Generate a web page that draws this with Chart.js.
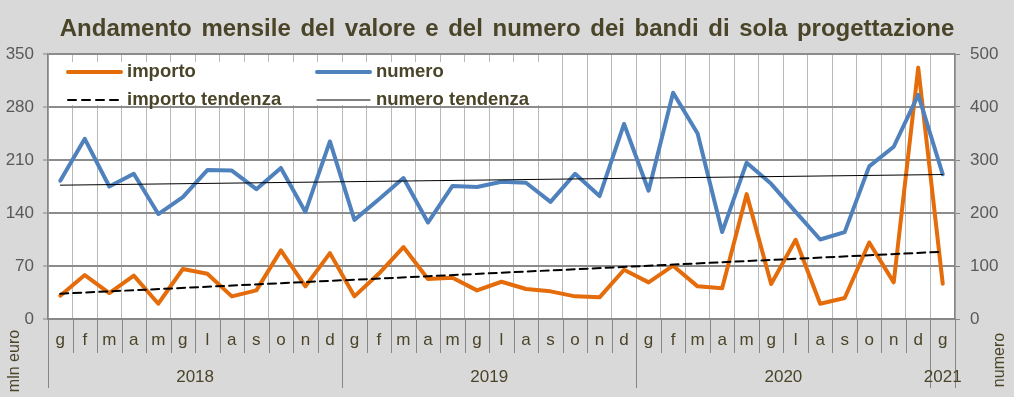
<!DOCTYPE html>
<html>
<head>
<meta charset="utf-8">
<script src="https://cdn.jsdelivr.net/npm/chart.js@4"></script>
<style>
  html, body { margin: 0; padding: 0; background: #d9d9d9; }
  #wrap { width: 1014px; height: 397px; }
</style>
</head>
<body>
<div id="wrap"><canvas id="bandiChart" width="1014" height="397"></canvas></div>
<script>
// mesi (g f m a m g l a s o n d) da gennaio 2018 a gennaio 2021
const months = ['g','f','m','a','m','g','l','a','s','o','n','d',
                'g','f','m','a','m','g','l','a','s','o','n','d',
                'g','f','m','a','m','g','l','a','s','o','n','d',
                'g'];
const years = ['2018', '2019', '2020', '2021'];
const monthsPerYear = [12, 12, 12, 1];

// importo in mln euro (asse sinistro)
const importo = [30.8, 58, 34.3, 57.2, 20.2, 66, 59.8, 29.9, 37.8, 90.6, 43.1, 87,
                 29.9, 60, 95, 52.8, 54.5, 37.8, 49.2, 39.6, 36.5, 29.9, 28.6, 65.1,
                 48.4, 70.4, 43.1, 40.5, 164.9, 46.2, 104.6, 20.2, 27.7, 101.1, 48.4, 332,
                 46.6];
// numero di bandi (asse destro)
const numero = [261, 340, 250, 274, 198, 230, 281, 280, 245, 285, 202, 335,
                187, 226, 266, 182, 251, 249, 259, 257, 221, 274, 232, 368,
                242, 427, 350, 164, 295, 255, 202, 150, 164, 288, 325, 423,
                273];
// linee di tendenza: valore iniziale e finale
const importoTendenza = [33.4, 88.8];
const numeroTendenza = [252.5, 272.6];

const leftTicks = [0, 70, 140, 210, 280, 350];
const rightTicks = [0, 100, 200, 300, 400, 500];

const titolo = 'Andamento mensile del valore e del numero dei bandi di sola progettazione';

const olive = '#4a4429';
const orange = '#e46c0a';
const blue = '#4f81bd';
const axisGray = '#868686';

function trendSeries(ends) {
  return months.map((m, i) => i === 0 ? ends[0] : (i === months.length - 1 ? ends[1] : null));
}

Chart.defaults.font.family = "'Liberation Sans', Arial, sans-serif";

const extras = {
  id: 'extras',
  beforeDraw(chart) {
    const a = chart.chartArea;
    const c = chart.ctx;
    c.save();
    c.fillStyle = '#ffffff';
    c.fillRect(a.left, a.top, a.right - a.left, a.bottom - a.top);
    c.restore();
  },
  afterDraw(chart) {
    const c = chart.ctx;
    const a = chart.chartArea;
    const xs = chart.scales.x;
    const half = (xs.getPixelForValue(1) - xs.getPixelForValue(0)) / 2;
    const edge = i => i >= months.length ? a.right : xs.getPixelForValue(i) - half;

    c.save();
    // titolo
    c.fillStyle = olive;
    c.font = "bold 24px 'Liberation Sans', Arial, sans-serif";
    c.textAlign = 'center';
    c.textBaseline = 'alphabetic';
    c.wordSpacing = '3px';
    c.fillText(titolo, 507, 36);
    c.wordSpacing = '0px';

    // separatori mesi e anni sotto l'asse
    const yearStarts = [];
    let acc = 0;
    monthsPerYear.forEach(n => { yearStarts.push(acc); acc += n; });
    yearStarts.push(months.length);
    c.strokeStyle = axisGray;
    c.lineWidth = 1;
    for (let i = 0; i <= months.length; i++) {
      const x = Math.round(edge(i)) + 0.5;
      const long = yearStarts.includes(i);
      c.beginPath();
      c.moveTo(x, a.bottom);
      c.lineTo(x, long ? 388 : 353);
      c.stroke();
    }
    // etichette anni
    c.fillStyle = olive;
    c.font = "17px 'Liberation Sans', Arial, sans-serif";
    c.textBaseline = 'middle';
    years.forEach((y, k) => {
      const cx = (edge(yearStarts[k]) + edge(yearStarts[k + 1])) / 2;
      c.fillText(y, cx, 377);
    });
    // titoli assi
    c.font = "16px 'Liberation Sans', Arial, sans-serif";
    c.save();
    c.translate(15, 361);
    c.rotate(-Math.PI / 2);
    c.fillText('mln euro', 0, 0);
    c.restore();
    c.save();
    c.translate(1000, 360);
    c.rotate(-Math.PI / 2);
    c.fillText('numero', 0, 0);
    c.restore();

    // legenda
    c.fillStyle = '#ffffff';
    c.fillRect(58, 62, 490, 43);
    const items = [
      { text: 'importo', color: orange, width: 4, dash: [], x: 68, y: 72 },
      { text: 'numero', color: blue, width: 4, dash: [], x: 317, y: 72 },
      { text: 'importo tendenza', color: '#000', width: 2, dash: [8, 6], x: 68, y: 100 },
      { text: 'numero tendenza', color: '#000', width: 1, dash: [], x: 317, y: 100 }
    ];
    c.font = "bold 18.5px 'Liberation Sans', Arial, sans-serif";
    c.textAlign = 'left';
    items.forEach(it => {
      c.beginPath();
      c.strokeStyle = it.color;
      c.lineWidth = it.width;
      c.setLineDash(it.dash);
      c.lineCap = 'round';
      c.moveTo(it.x, it.y);
      c.lineTo(it.x + 53, it.y);
      c.stroke();
      c.setLineDash([]);
      c.fillStyle = olive;
      c.fillText(it.text, it.x + 59, it.y);
    });
    c.restore();
  }
};

new Chart(document.getElementById('bandiChart'), {
  type: 'line',
  data: {
    labels: months,
    datasets: [
      { label: 'numero tendenza', data: trendSeries(numeroTendenza), yAxisID: 'y1',
        borderColor: '#000', borderWidth: 1, spanGaps: true, order: 0 },
      { label: 'importo tendenza', data: trendSeries(importoTendenza), yAxisID: 'y',
        borderColor: '#000', borderWidth: 2, borderDash: [8, 5], spanGaps: true, order: 1 },
      { label: 'numero', data: numero, yAxisID: 'y1',
        borderColor: blue, borderWidth: 4, order: 2 },
      { label: 'importo', data: importo, yAxisID: 'y',
        borderColor: orange, borderWidth: 4, order: 3 }
    ]
  },
  options: {
    responsive: false,
    animation: false,
    devicePixelRatio: 1,
    elements: {
      point: { radius: 0, hoverRadius: 0 },
      line: { tension: 0, borderJoinStyle: 'round', borderCapStyle: 'round', fill: false }
    },
    layout: { padding: { left: 0, right: 0, top: 54, bottom: 0 } },
    plugins: {
      legend: { display: false },
      tooltip: { enabled: false },
      title: { display: false }
    },
    scales: {
      x: {
        type: 'category',
        offset: true,
        grid: { offset: true, color: '#b8b8b8', lineWidth: 1, borderDash: [1, 2], drawTicks: false },
        border: { display: true, color: axisGray, width: 1.5 },
        ticks: { color: olive, font: { size: 17 }, padding: 11, maxRotation: 0, autoSkip: false },
        afterFit(s) { s.height = 78; }
      },
      y: {
        position: 'left',
        min: 0, max: 350,
        afterBuildTicks(s) { s.ticks = leftTicks.map(v => ({ value: v })); },
        grid: { color: '#8c8c8c', lineWidth: 2, borderDash: [2, 2], tickLength: 5,
                tickBorderDash: [], tickColor: axisGray, tickWidth: 1 },
        border: { display: true, color: axisGray, width: 1.5 },
        ticks: { color: '#595959', font: { size: 17 }, padding: 9 },
        afterFit(s) { s.width = 48; }
      },
      y1: {
        position: 'right',
        min: 0, max: 500,
        afterBuildTicks(s) { s.ticks = rightTicks.map(v => ({ value: v })); },
        grid: { drawOnChartArea: false, tickLength: 5, tickColor: axisGray, tickWidth: 1 },
        border: { display: true, color: axisGray, width: 1.5 },
        ticks: { color: '#595959', font: { size: 17 }, padding: 10 },
        afterFit(s) { s.width = 59; }
      }
    }
  },
  plugins: [extras]
});
</script>
</body>
</html>
